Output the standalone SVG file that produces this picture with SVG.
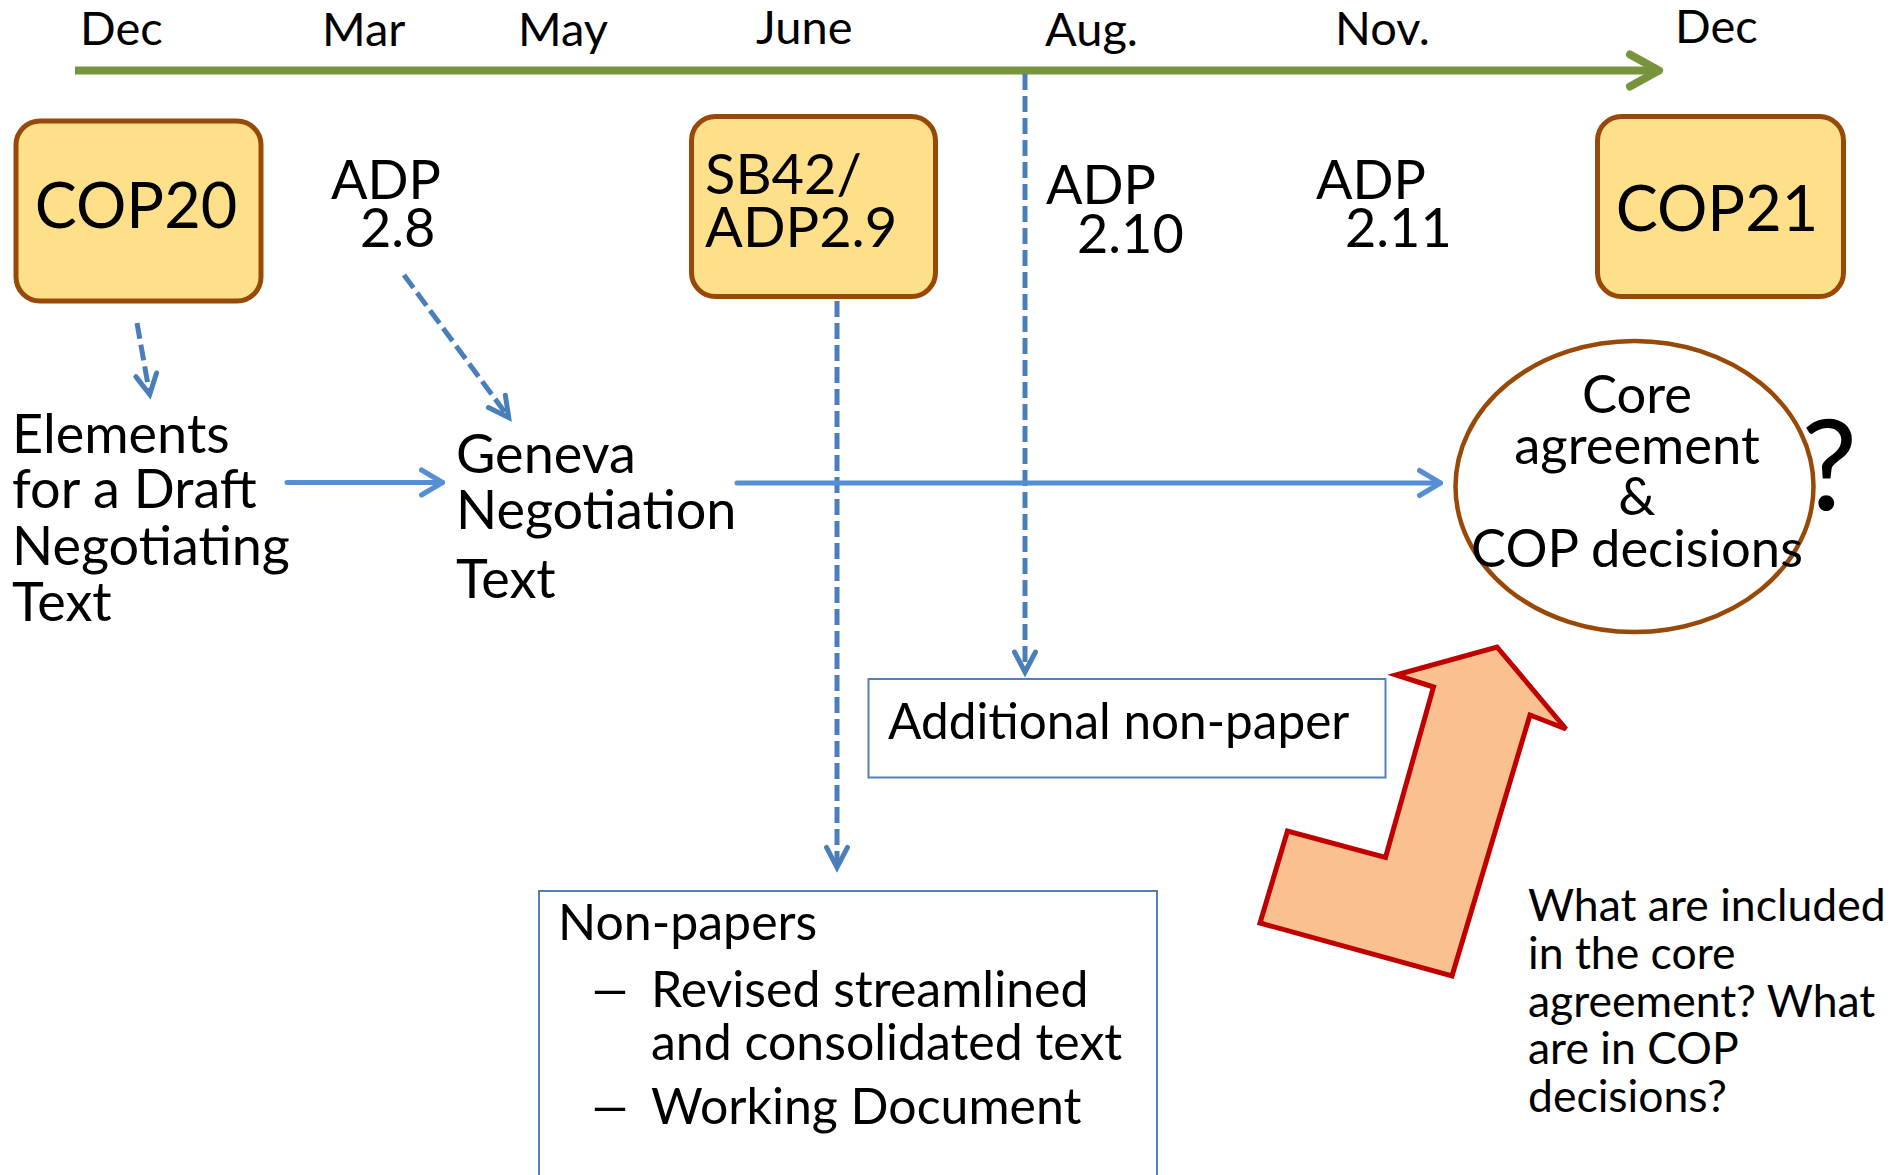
<svg xmlns="http://www.w3.org/2000/svg" width="1893" height="1175" viewBox="0 0 1893 1175">
<style>
.t{font-family:Lato,"Liberation Sans",sans-serif;fill:#000}
.month{font-size:47px}
.big{font-size:63px}
.adp{font-size:54px}
.sb{font-size:56px}
.body{font-size:54px}
.core{font-size:52.5px}
.add{font-size:49.5px}
.np{font-size:50px}
.q{font-size:44.5px}
.qm{font-size:126px}
.gold{fill:#FFE08A;stroke:#984807;stroke-width:5}
.paper{fill:#fff;stroke:#4F81BD;stroke-width:2}
.dash{fill:none;stroke:#4A7EBB;stroke-width:5;stroke-dasharray:16 6;marker-end:url(#mDash)}
.solid{fill:none;stroke:#558ED5;stroke-width:5;stroke-linecap:round;marker-end:url(#mSolid)}
</style>
<defs>
<marker id="mDash" markerUnits="userSpaceOnUse" orient="auto" refX="0" refY="0" markerWidth="1" markerHeight="1" overflow="visible">
<path d="M-20,-10.5 L0,0 L-20,10.5" fill="none" stroke="#4A7EBB" stroke-width="5" stroke-linejoin="miter" stroke-linecap="round" stroke-dasharray="none"/>
</marker>
<marker id="mSolid" markerUnits="userSpaceOnUse" orient="auto" refX="0" refY="0" markerWidth="1" markerHeight="1" overflow="visible">
<path d="M-21,-12.5 L0,0 L-21,12.5" fill="none" stroke="#558ED5" stroke-width="5" stroke-linejoin="round" stroke-linecap="round"/>
</marker>
<marker id="mGreen" markerUnits="userSpaceOnUse" orient="auto" refX="0" refY="0" markerWidth="1" markerHeight="1" overflow="visible">
<path d="M-29,-16 L0,0 L-29,16" fill="none" stroke="#77933C" stroke-width="8" stroke-linejoin="round" stroke-linecap="round"/>
</marker>
</defs>
<rect width="1893" height="1175" fill="#fff"/>

<g id="timeline">
<line x1="75" y1="70.5" x2="1659" y2="70.5" stroke="#77933C" stroke-width="8" marker-end="url(#mGreen)"/>
<text class="t month" x="80" y="45">Dec</text>
<text class="t month" x="322" y="46">Mar</text>
<text class="t month" x="518" y="46">May</text>
<text class="t month" x="756" y="44">June</text>
<text class="t month" x="1045" y="46">Aug.</text>
<text class="t month" x="1335" y="45">Nov.</text>
<text class="t month" x="1675" y="43">Dec</text>
</g>

<g id="cop20">
<rect class="gold" x="16" y="121" width="245" height="180" rx="24"/>
<text class="t big" x="136" y="228" text-anchor="middle">COP20</text>
</g>

<g id="adp28">
<text class="t adp"><tspan x="331" y="199">ADP</tspan><tspan x="360" y="247">2.8</tspan></text>
</g>

<g id="sb42">
<rect class="gold" x="691.5" y="116.5" width="244" height="180" rx="24"/>
<text class="t sb"><tspan x="705" y="194">SB42/</tspan><tspan x="705" y="247">ADP2.9</tspan></text>
</g>

<g id="adp210">
<text class="t adp"><tspan x="1046" y="204">ADP</tspan><tspan x="1077" y="253">2.10</tspan></text>
</g>

<g id="adp211">
<text class="t adp"><tspan x="1316" y="199">ADP</tspan><tspan x="1345" y="247">2.11</tspan></text>
</g>

<g id="cop21">
<rect class="gold" x="1597.5" y="116.5" width="246" height="180" rx="24"/>
<text class="t big" x="1717" y="231" text-anchor="middle">COP21</text>
</g>

<g id="elements">
<text class="t body"><tspan x="12" y="453">Elements</tspan><tspan x="12" y="508">for a Draft</tspan><tspan x="12" y="565">Negotiating</tspan><tspan x="12" y="621">Text</tspan></text>
</g>

<g id="geneva">
<text class="t body"><tspan x="456" y="473">Geneva</tspan><tspan x="456" y="529">Negotiation</tspan><tspan x="456" y="598">Text</tspan></text>
</g>

<g id="core">
<ellipse cx="1634.5" cy="486.5" rx="179" ry="145.5" fill="none" stroke="#984807" stroke-width="4.5"/>
<text class="t core" text-anchor="middle"><tspan x="1637" y="413">Core</tspan><tspan x="1637" y="464">agreement</tspan><tspan x="1637" y="515">&amp;</tspan><tspan x="1637" y="567">COP decisions</tspan></text>
<text class="t qm" x="1801" y="510">?</text>
</g>

<g id="additional">
<rect class="paper" x="868.5" y="679" width="517" height="98.5"/>
<text class="t add" x="888" y="739">Additional non-paper</text>
</g>

<g id="nonpapers">
<rect class="paper" x="539" y="891" width="618" height="300"/>
<text class="t np" x="558" y="940">Non-papers</text>
<text class="t np" x="588" y="1006.6" textLength="44" lengthAdjust="spacingAndGlyphs">–</text>
<text class="t np"><tspan x="651" y="1006.6">Revised streamlined</tspan><tspan x="651" y="1059.5">and consolidated text</tspan></text>
<text class="t np" x="588" y="1124" textLength="44" lengthAdjust="spacingAndGlyphs">–</text>
<text class="t np" x="651" y="1124">Working Document</text>
</g>

<g id="bent-arrow">
<polygon points="1497,647 1566,729 1530,715 1452,976 1260,923 1287.5,831 1385.5,857.5 1433.5,687 1396,675" fill="#FAC090" stroke="#C00000" stroke-width="5" stroke-linejoin="miter"/>
</g>

<g id="question">
<text class="t q"><tspan x="1528" y="921">What are included</tspan><tspan x="1528" y="968.7">in the core</tspan><tspan x="1528" y="1016.5">agreement? What</tspan><tspan x="1528" y="1064">are in COP</tspan><tspan x="1528" y="1112">decisions?</tspan></text>
</g>

<g id="connectors">
<line class="dash" x1="137" y1="323" x2="149.7" y2="394.5"/>
<line class="dash" x1="404" y1="275" x2="508.7" y2="417.5"/>
<line class="dash" x1="837" y1="301" x2="837" y2="867.4"/>
<line class="dash" x1="1025" y1="74" x2="1025" y2="672"/>
<line class="solid" x1="287" y1="482.5" x2="442.5" y2="482.5"/>
<line class="solid" x1="737" y1="483" x2="1440.5" y2="483"/>
</g>
</svg>
